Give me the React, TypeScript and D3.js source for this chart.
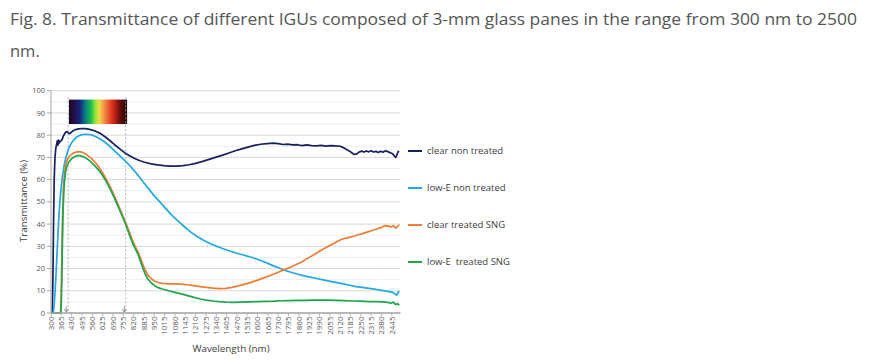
import React from "react";
import * as d3 from "d3";

// ---------- DATA ----------
const xTickLabels: number[] = [
  300, 365, 430, 495, 560, 625, 690, 755, 820, 885, 950, 1015, 1080, 1145, 1210, 1275, 1340,
  1405, 1470, 1535, 1600, 1665, 1730, 1795, 1860, 1925, 1990, 2055, 2120, 2185, 2250, 2315, 2380, 2445,
];
const yTickLabels: number[] = [0, 10, 20, 30, 40, 50, 60, 70, 80, 90, 100];
const seriesNames: string[] = ["clear non treated", "low-E non treated", "clear treated SNG", "low-E  treated SNG"];
const seriesColors: string[] = ["#17215e", "#22a8e2", "#ee7d32", "#1ea64c"];
const visibleRange: number[] = [408, 770];
const arrowMarks: number[] = [396, 762];
const spectrumRange: number[] = [413, 779];
const spectrumValues: number[] = [96, 85];

// [wavelength nm, transmittance %]
const clearNonTreated: [number, number][] = [
  [300, 0], [305, 0], [308, 0.5], [312, 15], [316, 40], [320, 60], [325, 70], [330, 74], [336, 76],
  [340, 77.5], [344, 75.5], [348, 77.8], [352, 76.5], [358, 77.2], [364, 77.5], [370, 78], [377, 79.5],
  [385, 80.5], [392, 81.3], [398, 81.6], [405, 81.3], [412, 80.8], [420, 80.8], [430, 81.5], [440, 82],
  [455, 82.5], [475, 82.8], [495, 83], [515, 82.9], [535, 82.7], [560, 82.3], [580, 81.8], [610, 80.8],
  [640, 79.3], [670, 77.6], [700, 75.7], [735, 73.7], [765, 72], [800, 70.5], [830, 69.4], [860, 68.5],
  [890, 67.8], [930, 67.1], [970, 66.6], [1010, 66.3], [1050, 66.1], [1090, 66.1], [1130, 66.3],
  [1170, 66.7], [1210, 67.3], [1250, 68.1], [1290, 69], [1330, 69.9], [1380, 71], [1420, 72], [1460, 73],
  [1500, 73.8], [1540, 74.6], [1580, 75.4], [1620, 75.9], [1660, 76.2], [1700, 76.4], [1730, 76.2],
  [1760, 75.8], [1790, 76], [1820, 75.6], [1850, 75.7], [1880, 75.3], [1910, 75.6], [1940, 75.3],
  [1970, 75.2], [2000, 75.4], [2030, 75.1], [2060, 75.3], [2090, 75.2], [2120, 75], [2140, 74.4],
  [2160, 73.6], [2180, 72.8], [2195, 72], [2210, 71.3], [2225, 71.6], [2240, 72.4], [2255, 72.8],
  [2270, 72.4], [2285, 72.9], [2300, 72.5], [2315, 73], [2330, 72.4], [2345, 72.7], [2360, 72.2],
  [2375, 72.8], [2390, 72.3], [2405, 73], [2420, 72.6], [2435, 72.1], [2450, 71.6], [2462, 70.6],
  [2470, 70], [2478, 71.2], [2485, 72.6], [2492, 72.8],
];

const lowENonTreated: [number, number][] = [
  [300, 0], [312, 0], [316, 1], [320, 4], [326, 10], [332, 18], [338, 27], [344, 36], [350, 44],
  [357, 51], [365, 57], [373, 62], [382, 66], [392, 69.5], [403, 72.3], [415, 74.6], [430, 76.6],
  [445, 78], [462, 79.2], [480, 79.9], [500, 80.3], [520, 80.4], [540, 80.3], [560, 80], [580, 79.4],
  [610, 78.3], [640, 76.8], [670, 75], [700, 72.9], [730, 70.9], [765, 68.6], [800, 66], [830, 63.5],
  [860, 60.8], [890, 58], [920, 55.4], [950, 52.7], [985, 50], [1020, 47.2], [1060, 44], [1100, 41.3],
  [1140, 38.8], [1180, 36.4], [1220, 34.4], [1260, 32.7], [1300, 31.3], [1340, 30.1], [1380, 29],
  [1420, 28], [1460, 27.1], [1500, 26.3], [1540, 25.5], [1580, 24.6], [1620, 23.6], [1660, 22.5],
  [1700, 21.2], [1740, 20.1], [1780, 19], [1820, 18.1], [1860, 17.3], [1900, 16.6], [1940, 16],
  [1980, 15.4], [2020, 14.8], [2060, 14.2], [2100, 13.7], [2140, 13.1], [2180, 12.5], [2220, 11.9],
  [2260, 11.5], [2300, 11.1], [2340, 10.7], [2380, 10.2], [2420, 9.7], [2450, 9.3], [2465, 8.6],
  [2475, 8], [2485, 9.2], [2492, 9.9],
];

const clearTreatedSNG: [number, number][] = [
  [300, 0], [355, 0], [360, 0.3], [363, 5], [366, 15], [369, 28], [372, 40], [375, 50], [379, 57],
  [384, 62], [390, 65.5], [397, 67.8], [405, 69.3], [415, 70.4], [428, 71.3], [442, 72], [458, 72.4],
  [472, 72.6], [486, 72.5], [500, 72.2], [515, 71.6], [530, 70.9], [550, 69.8], [575, 68], [600, 65.8],
  [625, 63], [650, 59.9], [675, 56.4], [700, 52.5], [725, 48.3], [750, 44], [770, 40.6], [790, 37],
  [810, 33.3], [830, 30], [850, 27], [870, 23.5], [890, 19.6], [910, 17.2], [930, 15.5], [950, 14.4],
  [975, 13.7], [1000, 13.3], [1040, 13.1], [1080, 13.1], [1120, 13], [1160, 12.7], [1200, 12.3],
  [1240, 11.9], [1280, 11.5], [1320, 11.2], [1360, 11], [1400, 11.1], [1440, 11.5], [1480, 12.2],
  [1520, 13], [1560, 13.8], [1600, 14.8], [1640, 15.8], [1680, 16.9], [1720, 18], [1760, 19.2],
  [1800, 20.4], [1840, 21.7], [1880, 23.1], [1920, 24.8], [1960, 26.4], [2000, 28.2], [2040, 29.8],
  [2080, 31.3], [2110, 32.5], [2140, 33.4], [2170, 33.9], [2200, 34.4], [2230, 35.1], [2260, 35.7],
  [2290, 36.4], [2320, 37.1], [2350, 37.8], [2380, 38.5], [2400, 39.3], [2420, 39.2], [2440, 38.7],
  [2455, 39.3], [2470, 38.2], [2482, 39], [2492, 39.8],
];

const lowETreatedSNG: [number, number][] = [
  [300, 0], [358, 0], [362, 0.3], [365, 5], [368, 15], [371, 28], [374, 40], [377, 48], [381, 55],
  [386, 60], [392, 63.5], [400, 66], [410, 67.6], [422, 68.8], [436, 69.8], [452, 70.4], [468, 70.8],
  [484, 70.8], [500, 70.4], [515, 69.9], [530, 69.2], [550, 68.1], [575, 66.3], [600, 64.3], [625, 61.8],
  [650, 58.8], [675, 55.4], [700, 51.6], [725, 47.5], [750, 43.3], [770, 39.8], [790, 35.9], [810, 32],
  [830, 29], [850, 26], [870, 21.8], [890, 18], [910, 15.3], [930, 13.6], [950, 12.4], [975, 11.4],
  [1000, 10.8], [1040, 10], [1080, 9.3], [1120, 8.6], [1160, 7.8], [1200, 7], [1240, 6.3], [1280, 5.8],
  [1320, 5.4], [1360, 5.1], [1400, 4.9], [1450, 4.8], [1500, 4.9], [1550, 5], [1600, 5.1], [1650, 5.2],
  [1700, 5.3], [1750, 5.5], [1800, 5.6], [1850, 5.7], [1900, 5.7], [1950, 5.8], [2000, 5.8], [2050, 5.8],
  [2100, 5.7], [2150, 5.6], [2200, 5.4], [2250, 5.3], [2300, 5.1], [2350, 5.1], [2390, 5], [2420, 4.8],
  [2440, 4.4], [2455, 4.9], [2468, 3.8], [2480, 4.2], [2492, 3.5],
];

const allSeries = [clearNonTreated, lowENonTreated, clearTreatedSNG, lowETreatedSNG];

const spectrumStops: { o: number; c: string }[] = [
  { o: 0, c: "#1a0818" },
  { o: 0.1, c: "#24104e" },
  { o: 0.19, c: "#14287a" },
  { o: 0.28, c: "#0c7a86" },
  { o: 0.38, c: "#1fbf48" },
  { o: 0.45, c: "#8ee43a" },
  { o: 0.52, c: "#eedc48" },
  { o: 0.6, c: "#f4944a" },
  { o: 0.74, c: "#e0301c" },
  { o: 0.88, c: "#6a0c0a" },
  { o: 1, c: "#1c0404" },
];

// ---------- LAYOUT ----------
const W = 875;
const H = 360;
const plotLeft = 51;
const plotRight = 400.5;
const plotTop = 90.7;
const plotBottom = 313;

export default function App() {
  const x = d3.scaleLinear().domain([300, 2500]).range([plotLeft, plotRight]);
  const y = d3.scaleLinear().domain([0, 100]).range([plotBottom, plotTop]);
  const line = d3
    .line<[number, number]>()
    .x((d) => x(d[0]))
    .y((d) => y(d[1]));
  const minorTicks = d3.range(5, 100, 10);
  const font = "'Open Sans', 'DejaVu Sans', sans-serif";
  const legendY = [151, 188, 225, 262];

  return (
    <svg
      width={W}
      height={H}
      viewBox={`0 0 ${W} ${H}`}
      style={{ position: "absolute", left: 0, top: 0, background: "#fff" }}
    >
      <defs>
        <linearGradient id="spec" x1="0" x2="1" y1="0" y2="0">
          {spectrumStops.map((s, i) => (
            <stop key={i} offset={s.o} stopColor={s.c} />
          ))}
        </linearGradient>
      </defs>
      <rect x={0} y={0} width={W} height={H} fill="#fff" />

      {/* Title */}
      <text x={10} y={25} fontFamily={font} fontSize={16.5} fill="#555555" textLength={847} lengthAdjust="spacingAndGlyphs">
        Fig. 8. Transmittance of different IGUs composed of 3-mm glass panes in the range from 300 nm to 2500
      </text>
      <text x={10} y={57} fontFamily={font} fontSize={16.5} fill="#555555">
        nm.
      </text>

      {/* Gridlines */}
      {minorTicks.map((t) => (
        <line key={"m" + t} x1={plotLeft} x2={plotRight} y1={y(t)} y2={y(t)} stroke="#efefef" strokeWidth={1} />
      ))}
      {yTickLabels.filter((t) => t > 0).map((t) => (
        <line key={"g" + t} x1={plotLeft} x2={plotRight} y1={y(t)} y2={y(t)} stroke="#d9d9d9" strokeWidth={1} />
      ))}

      {/* Spectrum */}
      <rect
        x={x(spectrumRange[0])}
        y={y(spectrumValues[0])}
        width={x(spectrumRange[1]) - x(spectrumRange[0])}
        height={y(spectrumValues[1]) - y(spectrumValues[0])}
        fill="url(#spec)"
      />

      {/* Visible range dashed lines */}
      {visibleRange.map((v, i) => (
        <line
          key={"v" + i}
          x1={x(v)}
          x2={x(v)}
          y1={y(97)}
          y2={plotBottom}
          stroke="#a6a6a6"
          strokeWidth={0.8}
          strokeDasharray="2,2"
        />
      ))}
      {arrowMarks.map((v, i) => (
        <g key={"a" + i} stroke="#7f7f7f" strokeWidth={0.8} fill="none">
          <line x1={x(v)} x2={x(v)} y1={y(3)} y2={plotBottom - 1} />
          <path d={`M${x(v) - 2},${plotBottom - 4} L${x(v)},${plotBottom - 1} L${x(v) + 2},${plotBottom - 4}`} />
        </g>
      ))}

      {/* Series */}
      {allSeries.map((s, i) => (
        <path key={"s" + i} d={line(s) || ""} fill="none" stroke={seriesColors[i]} strokeWidth={1.7} strokeLinejoin="round" />
      ))}

      {/* Axes */}
      <line x1={plotLeft} x2={plotLeft} y1={plotTop} y2={plotBottom} stroke="#a6a6a6" strokeWidth={1} />
      {yTickLabels.map((t) => (
        <g key={"y" + t}>
          <line x1={plotLeft - 4} x2={plotLeft} y1={y(t)} y2={y(t)} stroke="#a6a6a6" strokeWidth={1} />
          <text x={plotLeft - 6} y={y(t)} dy="0.35em" textAnchor="end" fontFamily={font} fontSize={7.5} fill="#595959">
            {t}
          </text>
        </g>
      ))}
      <line x1={plotLeft} x2={plotRight} y1={plotBottom} y2={plotBottom} stroke="#a0a0a0" strokeWidth={1.6} />
      {xTickLabels.map((t) => (
        <g key={"x" + t}>
          <line x1={x(t)} x2={x(t)} y1={plotBottom} y2={plotBottom + 3} stroke="#a6a6a6" strokeWidth={0.8} />
          <text
            transform={`translate(${x(t)},${plotBottom + 3.5}) rotate(-90)`}
            dy="0.35em"
            textAnchor="end"
            fontFamily={font}
            fontSize={8}
            fill="#595959"
          >
            {t}
          </text>
        </g>
      ))}

      {/* Axis titles */}
      <text
        transform={`translate(23.5,201) rotate(-90)`}
        dy="0.35em"
        textAnchor="middle"
        fontFamily={font}
        fontSize={9.8}
        fill="#404040"
      >
        Transmittance (%)
      </text>
      <text x={231} y={352} textAnchor="middle" fontFamily={font} fontSize={9.8} fill="#404040">
        Wavelength (nm)
      </text>

      {/* Legend */}
      {seriesNames.map((n, i) => (
        <g key={"l" + i}>
          <line x1={408} x2={422} y1={legendY[i]} y2={legendY[i]} stroke={seriesColors[i]} strokeWidth={2} />
          <text x={427} y={legendY[i]} dy="0.35em" fontFamily={font} fontSize={9.5} fill="#404040" style={{ whiteSpace: "pre" }}>
            {n}
          </text>
        </g>
      ))}
    </svg>
  );
}
